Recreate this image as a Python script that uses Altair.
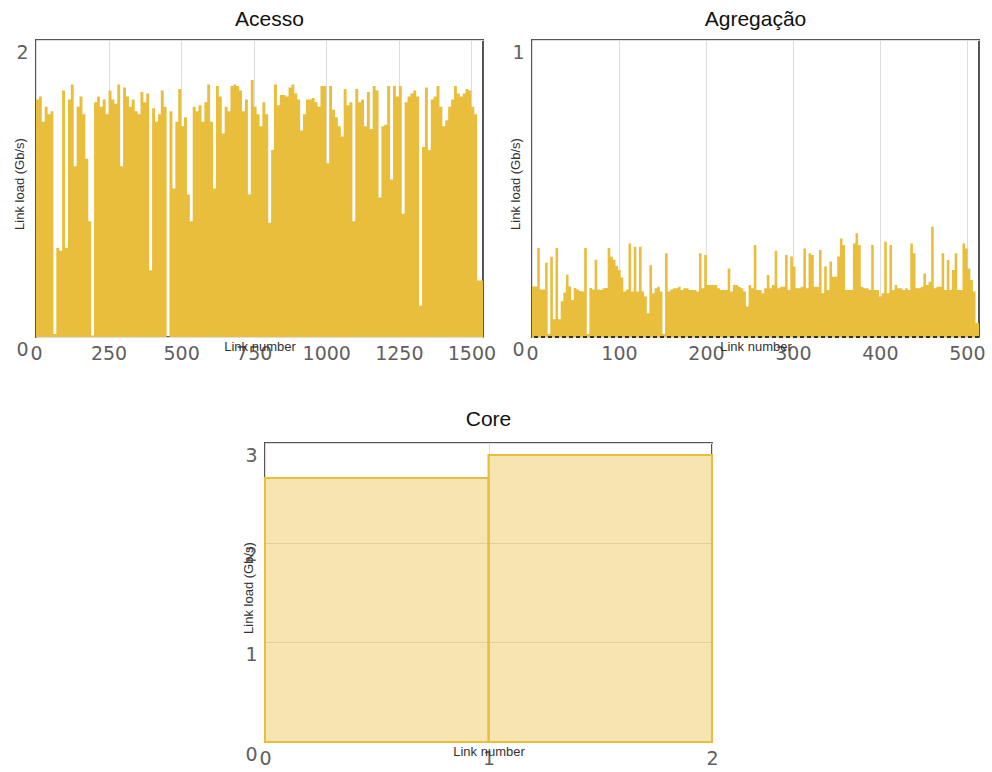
import altair as alt
import pandas as pd

# ---------------- data ----------------
# Acesso: link load per group of 10 links (links 0..1540)
acesso_step = 10
acesso_load = [
    1.60, 1.62, 1.45, 1.55, 1.50, 1.52, 0.02, 0.60, 0.58, 1.66,
    0.60, 1.60, 1.70, 1.15, 1.55, 1.62, 1.50, 1.20, 0.78, 0.01,
    1.58, 1.62, 1.55, 1.60, 1.50, 1.66, 1.60, 1.57, 1.70, 1.15,
    1.68, 1.62, 1.55, 1.60, 1.52, 1.50, 1.65, 1.58, 1.64, 0.45,
    1.54, 1.45, 1.50, 1.66, 1.55, 0.00, 1.52, 1.00, 1.45, 1.67,
    1.42, 1.48, 0.96, 0.78, 1.55, 1.52, 1.56, 1.45, 1.58, 1.70,
    1.45, 1.00, 1.69, 1.62, 1.37, 1.55, 1.52, 1.69, 1.70, 1.69,
    1.66, 1.52, 1.60, 0.96, 1.73, 1.55, 1.50, 1.42, 1.58, 1.50,
    0.77, 1.26, 1.70, 1.56, 1.63, 1.63, 1.62, 1.68, 1.70, 1.64,
    1.60, 1.39, 1.50, 1.60, 1.60, 1.61, 1.58, 1.55, 1.69, 1.69,
    1.17, 1.69, 1.53, 1.48, 1.42, 1.35, 1.67, 1.56, 1.58, 0.78,
    1.67, 1.58, 1.60, 1.42, 1.65, 1.40, 1.69, 1.66, 0.94, 1.42,
    1.43, 1.69, 1.06, 1.69, 1.62, 1.69, 0.83, 1.58, 1.62, 1.64,
    1.66, 1.62, 0.21, 1.28, 1.68, 1.26, 1.60, 1.62, 1.69, 1.55,
    1.42, 1.46, 1.55, 1.60, 1.69, 1.64, 1.62, 1.64, 1.67, 1.66,
    1.55, 1.50, 0.38, 0.38,
]

# Agregacao: link load per group of 3 links (links 0..514)
agreg_step = 3
agreg_load = [
    0.17, 0.17, 0.30, 0.16, 0.16, 0.25, 0.01, 0.27, 0.06, 0.30,
    0.06, 0.12, 0.15, 0.21, 0.17, 0.125, 0.165, 0.16, 0.155, 0.153,
    0.30, 0.01, 0.165, 0.16, 0.26, 0.16, 0.158, 0.164, 0.165, 0.30,
    0.27, 0.26, 0.24, 0.226, 0.20, 0.153, 0.16, 0.315, 0.153, 0.304,
    0.153, 0.304, 0.153, 0.136, 0.08, 0.242, 0.147, 0.164, 0.169, 0.153,
    0.01, 0.282, 0.153, 0.16, 0.164, 0.164, 0.169, 0.158, 0.164, 0.164,
    0.158, 0.158, 0.158, 0.153, 0.282, 0.164, 0.276, 0.175, 0.175, 0.175,
    0.175, 0.164, 0.158, 0.158, 0.158, 0.231, 0.153, 0.175, 0.175, 0.169,
    0.164, 0.153, 0.103, 0.175, 0.164, 0.31, 0.158, 0.158, 0.147, 0.164,
    0.209, 0.164, 0.175, 0.29, 0.164, 0.169, 0.169, 0.276, 0.158, 0.271,
    0.237, 0.164, 0.164, 0.169, 0.298, 0.164, 0.282, 0.276, 0.169, 0.169,
    0.293, 0.147, 0.237, 0.158, 0.254, 0.203, 0.203, 0.271, 0.332, 0.31,
    0.158, 0.158, 0.158, 0.315, 0.349, 0.31, 0.169, 0.164, 0.164, 0.158,
    0.31, 0.158, 0.158, 0.136, 0.147, 0.321, 0.147, 0.31, 0.158, 0.175,
    0.164, 0.164, 0.158, 0.164, 0.158, 0.315, 0.282, 0.164, 0.164, 0.169,
    0.214, 0.175, 0.186, 0.371, 0.164, 0.169, 0.169, 0.282, 0.158, 0.259,
    0.158, 0.226, 0.282, 0.158, 0.158, 0.315, 0.298, 0.231, 0.192, 0.153,
    0.046, 0.046,
]

# Core: two links
core_links = [0, 1]
core_load = [2.65, 2.88]

acesso_xticks = [0, 250, 500, 750, 1000, 1250, 1500]
agreg_xticks = [0, 100, 200, 300, 400, 500]
core_xticks = [0, 1, 2]
acesso_yticks = [0, 2]
agreg_yticks = [0, 1]
core_yticks = [0, 1, 2, 3]

# ---------------- tables ----------------
acesso_df = pd.DataFrame({
    "link": [i * acesso_step for i in range(len(acesso_load) + 1)],
    "load": acesso_load + [acesso_load[-1]],
})
agreg_df = pd.DataFrame({
    "link": [i * agreg_step for i in range(len(agreg_load) + 1)],
    "load": agreg_load + [agreg_load[-1]],
})
core_df = pd.DataFrame({
    "link": core_links,
    "link_end": [l + 1 for l in core_links],
    "load": core_load,
})

GOLD = "#E9BE3C"
W, H = 447, 297
CH = 299
LABEL_FONT = "DejaVu Sans"
TITLE_FONT = "Liberation Sans"


def x_axis(values, w):
    return alt.Axis(
        values=values, format=".0f", title="Link number", grid=True,
        gridColor="#dddddd", ticks=False, tickSize=0, domain=False,
        labelFont=LABEL_FONT, labelFontSize=19, labelColor="#606060",
        labelPadding=16, labelBaseline="middle", labelFlush=False,
        labelOverlap=False, labelBound=False,
        titleFont=TITLE_FONT, titleFontSize=13, titleColor="#333333",
        titleFontWeight="normal", titleX=w / 2, titleY=9,
        titleBaseline="middle", titleAlign="center",
    )


def y_axis(values, h):
    return alt.Axis(
        values=values, format=".0f", title="Link load (Gb/s)", grid=True,
        gridColor="#dddddd", ticks=False, tickSize=0, domain=False,
        labelFont=LABEL_FONT, labelFontSize=19, labelColor="#606060",
        labelPadding=8, labelBaseline="middle", labelOffset=12,
        labelOverlap=False,
        titleFont=TITLE_FONT, titleFontSize=13, titleColor="#333333",
        titleFontWeight="normal", titleX=-17, titleY=h / 2 - 5,
        titleBaseline="middle", titleAlign="center", titleAngle=270,
    )


def panel_title(text, dx=0, offset=-7):
    return alt.TitleParams(
        text, font=TITLE_FONT, fontSize=21, fontWeight="normal",
        color="#111111", offset=offset, baseline="alphabetic", dx=dx,
        frame="group",
    )


acesso = alt.Chart(acesso_df).mark_area(
    interpolate="step-after", color=GOLD, clip=True
).encode(
    x=alt.X("link:Q", scale=alt.Scale(domain=[0, 1540], nice=False, zero=False),
            axis=x_axis(acesso_xticks, W)),
    y=alt.Y("load:Q", scale=alt.Scale(domain=[0, 2], nice=False),
            axis=y_axis(acesso_yticks, H)),
).properties(width=W, height=H, title=panel_title("Acesso", dx=10))

agreg_area = alt.Chart(agreg_df).mark_area(
    interpolate="step-after", color=GOLD, clip=True
).encode(
    x=alt.X("link:Q", scale=alt.Scale(domain=[0, 514], nice=False, zero=False),
            axis=x_axis(agreg_xticks, W)),
    y=alt.Y("load:Q", scale=alt.Scale(domain=[0, 1], nice=False),
            axis=y_axis(agreg_yticks, H)),
)
agreg_zero = alt.Chart(agreg_df).mark_rule(
    color="#3a3320", strokeWidth=1.5, strokeDash=[4, 3]
).encode(y=alt.datum(0))
agreg = alt.layer(agreg_area, agreg_zero).properties(
    width=W, height=H, title=panel_title("Agregação")
)

core = alt.Chart(core_df).mark_rect(
    fill=GOLD, fillOpacity=0.4, stroke=GOLD, strokeWidth=2
).encode(
    x=alt.X("link:Q", scale=alt.Scale(domain=[0, 2], nice=False, zero=False),
            axis=x_axis(core_xticks, W)),
    x2="link_end:Q",
    y=alt.Y("load:Q", scale=alt.Scale(domain=[0, 3], nice=False),
            axis=y_axis(core_yticks, CH)),
    y2=alt.datum(0),
).properties(width=W, height=CH, title=panel_title("Core", offset=-4))

spacer = alt.Chart(pd.DataFrame({"s": [0]})).mark_point(opacity=0).encode(
    x=alt.X("s:Q", axis=None), y=alt.Y("s:Q", axis=None)
).properties(width=219, height=CH, view=alt.ViewBackground(stroke="transparent"))

top = alt.hconcat(acesso, agreg, spacing=49, bounds="flush")
bottom = alt.hconcat(spacer, core, spacing=10, bounds="flush")

chart = alt.vconcat(top, bottom, spacing=44).properties(
    padding={"left": 12, "top": 8, "right": 5, "bottom": 5},
    background="white",
).configure_view(stroke="#555555", strokeWidth=2)

chart.save("out.html", embed_options={"renderer": "svg", "actions": False})
